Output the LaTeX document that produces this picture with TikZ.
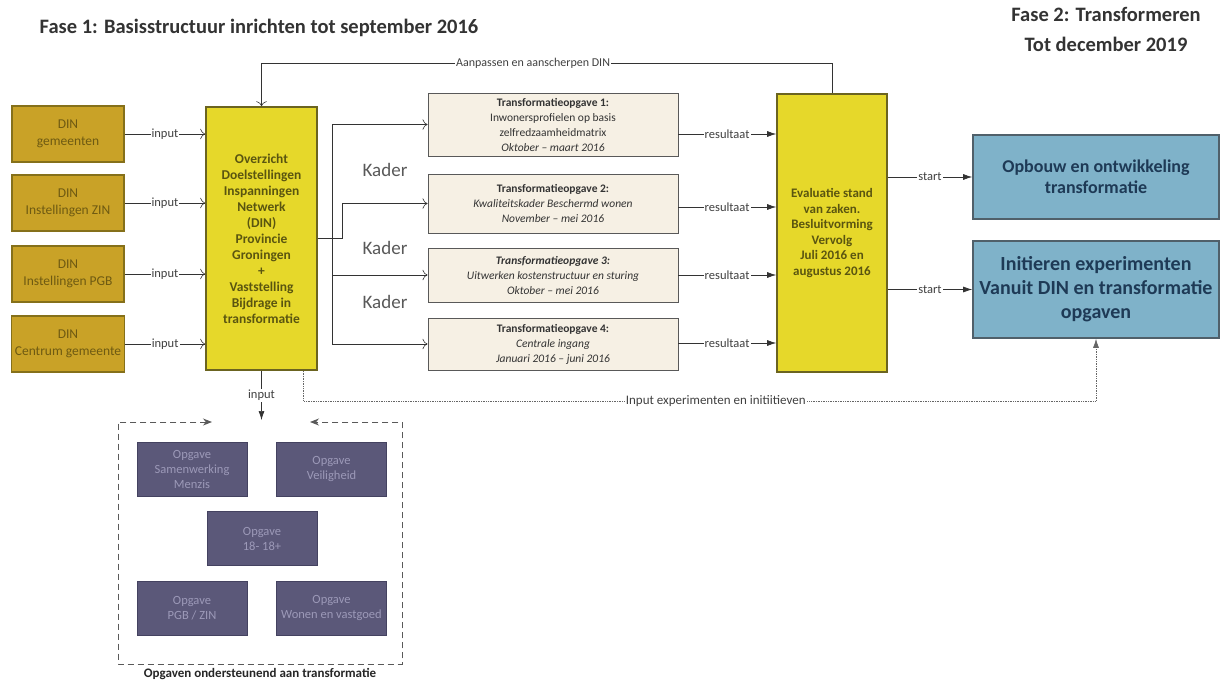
\documentclass[tikz,border=0pt]{standalone}
\usepackage{fontspec}
\setmainfont{Carlito}
\usetikzlibrary{arrows.meta}

\definecolor{dingold}{HTML}{C9A227}
\definecolor{dinline}{HTML}{85701A}
\definecolor{dintext}{HTML}{6E5A12}
\definecolor{geel}{HTML}{E6D82A}
\definecolor{geelline}{HTML}{6B6420}
\definecolor{geeltext}{HTML}{5A5510}
\definecolor{beige}{HTML}{F6F0E4}
\definecolor{blauw}{HTML}{7FB2C9}
\definecolor{blauwline}{HTML}{50606A}
\definecolor{blauwtext}{HTML}{1E3A56}
\definecolor{paars}{HTML}{5B5879}
\definecolor{paarsline}{HTML}{444260}
\definecolor{paarstext}{HTML}{9C99B8}
\definecolor{lijn}{HTML}{333333}

\begin{document}
\begin{tikzpicture}[x=1pt, y=-1pt,
  dinbox/.style={draw=dinline, fill=dingold, line width=1.2pt, minimum width=112pt, minimum height=56pt,
    align=center, text=dintext, font=\fontsize{13.5}{17}\selectfont},
  geelbox/.style={draw=geelline, fill=geel, line width=1.6pt, align=center, text=geeltext},
  opgbox/.style={draw=gray!70!black, fill=beige, line width=1pt, minimum width=250pt,
    align=center, text=black!80, font=\fontsize{11.5}{15}\selectfont},
  blauwbox/.style={draw=blauwline, fill=blauw, line width=1.6pt, minimum width=246pt,
    align=center, text=blauwtext},
  paarsbox/.style={draw=paarsline, fill=paars, line width=0.8pt, minimum width=110pt, minimum height=54pt,
    align=center, text=paarstext, font=\fontsize{12.5}{15}\selectfont},
  lbl/.style={fill=white, inner sep=1pt, text=black!75, font=\fontsize{12.5}{14}\selectfont},
  kader/.style={text=black!65, font=\fontsize{19}{21}\selectfont},
  dun/.style={draw=lijn, line width=0.6pt, -{To[length=5pt]}},
  pijl/.style={draw=lijn, line width=0.7pt, -{Latex[length=9pt,width=6pt]}}]

  \path[fill=white] (0,0) rectangle (1224,683);
  \useasboundingbox (0,0) rectangle (1224,683);

  %titles
  \node[font=\fontsize{20.5}{22}\selectfont\bfseries, text=black!80] (fase1) at (259,28) {Fase 1: Basisstructuur inrichten tot september 2016};
  \node[font=\fontsize{20.5}{30}\selectfont\bfseries, text=black!80, align=center] (fase2) at (1106,29) {Fase 2: Transformeren\\Tot december 2019};

  %din input boxes
  \foreach \y/\txt/\name in {134/gemeenten/dg, 203/Instellingen ZIN/dz, 274/Instellingen PGB/dp, 344/Centrum gemeente/dc}{
    \node[dinbox] (\name) at (68,\y) {DIN\\\txt};
  }

  %overzicht
  \node[geelbox, minimum width=111pt, minimum height=263pt, font=\fontsize{13.5}{16}\selectfont\bfseries] (din) at (261.5,238.5)
    {Overzicht\\Doelstellingen\\Inspanningen\\Netwerk\\(DIN)\\Provincie\\Groningen\\+\\Vaststelling\\Bijdrage in\\transformatie};

  \foreach \name in {dg,dz,dp,dc}{
    \draw[dun] (\name) -- node[lbl]{input} (\name -| din.west);
  }

  %transformatieopgaven
  \node[opgbox, minimum height=63pt] (t1) at (553,124.5)
    {\textbf{Transformatieopgave 1:}\\Inwonersprofielen op basis\\zelfredzaamheidmatrix\\\textit{Oktober – maart 2016}};
  \node[opgbox, minimum height=59pt] (t2) at (553,203.5)
    {\textbf{Transformatieopgave 2:}\\\textit{Kwaliteitskader Beschermd wonen}\\\textit{November – mei 2016}};
  \node[opgbox, minimum height=54pt] (t3) at (553,275)
    {\textbf{\textit{Transformatieopgave 3:}}\\\textit{Uitwerken kostenstructuur en sturing}\\\textit{Oktober – mei 2016}};
  \node[opgbox, minimum height=52pt] (t4) at (553,344)
    {\textbf{Transformatieopgave 4:}\\\textit{Centrale ingang}\\\textit{Januari 2016 – juni 2016}};

  \coordinate (trunk) at (332,0);
  \draw[dun] (din.east) -- ++(24,0) |- (t2.west);
  \draw[draw=lijn, line width=0.6pt] (trunk |- t1.west) -- (trunk |- t4.west);
  \foreach \name in {t1,t3,t4}{
    \draw[dun] (trunk |- \name.west) -- (\name.west);
  }

  \node[kader] (k1) at (385,170) {Kader};
  \node[kader] (k2) at (385,248) {Kader};
  \node[kader] (k3) at (385,302) {Kader};

  %evaluatie
  \node[geelbox, minimum width=110pt, minimum height=278pt, font=\fontsize{13}{15.5}\selectfont\bfseries] (eval) at (832,233)
    {Evaluatie stand\\van zaken.\\Besluitvorming\\Vervolg\\Juli 2016 en\\augustus 2016};

  \foreach \y/\name in {134/r1, 207/r2, 275/r3, 343/r4}{
    \coordinate (\name) at (678,\y);
    \draw[pijl] (\name) -- node[lbl]{resultaat} (\name -| eval.west);
  }

  \draw[dun] (eval.north) -- ++(0,-30) -| node[lbl, pos=0.262, font=\fontsize{12}{13}\selectfont]{Aanpassen en aanscherpen DIN} (din.north);

  %fase 2
  \node[blauwbox, minimum height=84pt, font=\fontsize{18}{21}\selectfont\bfseries] (o1) at (1096,177)
    {Opbouw en ontwikkeling\\transformatie};
  \node[blauwbox, minimum height=97pt, font=\fontsize{20}{24}\selectfont\bfseries] (o2) at (1096,289.5)
    {Initieren experimenten\\Vanuit DIN en transformatie\\opgaven};

  \draw[pijl] (eval.east |- o1.west) -- node[lbl]{start} (o1.west);
  \draw[pijl] (eval.east |- o2.west) -- node[lbl]{start} (o2.west);

  \coordinate (dturn) at (1096,401);
  \draw[pijl, densely dotted, draw=black!60] ([xshift=-14pt]din.south east) |- node[lbl, pos=0.76, font=\fontsize{13}{14}\selectfont]{Input experimenten en initiitieven} (dturn) -- (o2.south);

  %opgaven
  \coordinate (gin) at (261.5,420);
  \draw[pijl] (din.south) -- node[lbl, font=\fontsize{12.5}{14}\selectfont]{input} (gin);

  \foreach \x/\y/\txt/\name in {192/469/{Opgave\\Samenwerking\\Menzis}/pa, 331.5/469/{Opgave\\Veiligheid}/pb,
      262/538.5/{Opgave\\18- 18+}/pc, 192/608/{Opgave\\PGB / ZIN}/pd, 331.5/608/{Opgave\\Wonen en vastgoed}/pe}{
    \node[paarsbox] (\name) at (\x,\y) {\txt};
  }

  \coordinate (fa) at (212,422);
  \coordinate (fb) at (310,422);
  \draw[dash pattern=on 6pt off 4pt, draw=black!65, line width=0.9pt, {Stealth[length=9pt,width=7pt]}-{Stealth[length=9pt,width=7pt]}]
    (fa) -| (118,664) -- (402,664) -- (402,422) -- (fb);
  \node[font=\fontsize{13}{14}\selectfont\bfseries, text=black!85] (opgtitel) at (260,674) {Opgaven ondersteunend aan transformatie};

\end{tikzpicture}
\end{document}
